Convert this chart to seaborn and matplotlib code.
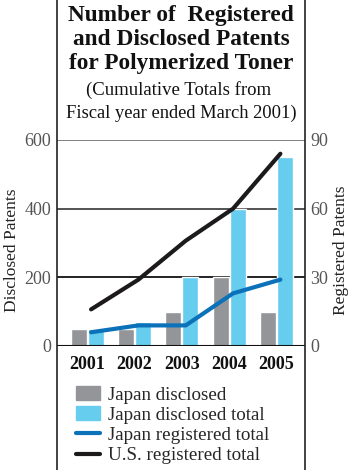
import numpy as np
import pandas as pd
import matplotlib
matplotlib.use('Agg')
import matplotlib.pyplot as plt
import seaborn as sns
from matplotlib.lines import Line2D
from matplotlib.patches import Patch

years = ['2001', '2002', '2003', '2004', '2005']
jp_disclosed = [50, 50, 100, 200, 100]
jp_disclosed_total = [50, 70, 200, 400, 550]
jp_registered_total = [6, 9, 9, 23, 29]
us_registered_total = [16, 29, 46, 60, 84]

c_gray = '#939598'
c_light = '#66cdee'
c_blue = '#0b72b9'
c_black = '#1c1a1a'
c_tick = '#555555'

sns.set_style('white')
plt.rcParams['font.family'] = ['Liberation Serif', 'DejaVu Serif']

fig = plt.figure(figsize=(3.48, 4.70), dpi=100)
ax = fig.add_axes([57/348, 1-346/470, (305-57)/348, (346-140)/470])

df = pd.DataFrame({
    'year': years * 2,
    'value': jp_disclosed + jp_disclosed_total,
    'series': ['Japan disclosed'] * 5 + ['Japan disclosed total'] * 5,
})
sns.barplot(data=df, x='year', y='value', hue='series',
            palette=[c_gray, c_light], width=0.72, gap=0.06,
            legend=False, ax=ax, saturation=1)

ax.set_xlim(-0.64, 4.6)
ax.set_ylim(0, 600)
ax.set_yticks([0, 200, 400, 600])
for yv, col in zip([200, 400, 600], ['#111111', '#444444', '#777777']):
    ax.axhline(yv, color=col, lw=1.3, zorder=0)
ax.axhline(0, color='#111111', lw=1.5, zorder=3)
for s in ax.spines.values():
    s.set_visible(False)
ax.tick_params(axis='y', length=0, labelsize=13, labelcolor=c_tick, pad=4)
ax.tick_params(axis='x', length=0, pad=7)
ax.set_xticks(range(5))
ax.set_xticklabels(years, fontsize=13, fontweight='bold', color='#111111')
ax.set_xlabel('')
ax.set_ylabel('')

ax2 = ax.twinx()
xs = np.arange(5) + 0.08
sns.lineplot(x=xs, y=us_registered_total, color=c_black, lw=3, ax=ax2)
sns.lineplot(x=xs, y=jp_registered_total, color=c_blue, lw=3, ax=ax2)
ax2.set_ylim(0, 90)
ax2.set_yticks([0, 30, 60, 90])
ax2.tick_params(axis='y', length=0, labelsize=13, labelcolor=c_tick, pad=4)
for s in ax2.spines.values():
    s.set_visible(False)
ax2.grid(False)

fig.text(12/348, 1-250/470, 'Disclosed Patents', rotation=90, ha='center',
         va='center', fontsize=12.5, color='#222222')
fig.text(341/348, 1-250/470, 'Registered Patents', rotation=90, ha='center',
         va='center', fontsize=12.5, color='#222222')

# frame lines
for xv in [56.5/348, 305/348]:
    fig.add_artist(Line2D([xv, xv], [0, 1], color='#222222', lw=1.2,
                          transform=fig.transFigure))

title = ['Number of  Registered', 'and Disclosed Patents', 'for Polymerized Toner']
for i, t in enumerate(title):
    fig.text(181/348, 1-(16+23.5*i)/470, t, ha='center', va='center',
             fontsize=16.8, fontweight='bold', color='#111111')
fig.text(179/348, 1-90/470, '(Cumulative Totals from', ha='center',
         va='center', fontsize=13.5, color='#111111')
fig.text(181/348, 1-113/470, 'Fiscal year ended March 2001)', ha='center',
         va='center', fontsize=13.3, color='#111111')

handles = [Patch(color=c_gray), Patch(color=c_light),
           Line2D([], [], color=c_blue, lw=3),
           Line2D([], [], color=c_black, lw=3)]
labels = ['Japan disclosed', 'Japan disclosed total',
          'Japan registered total', 'U.S. registered total']
fig.legend(handles, labels, loc='upper left', bbox_to_anchor=(76/348, 1-386/470),
           frameon=False, fontsize=13.7, handlelength=1.25, handleheight=0.75,
           handletextpad=0.45, labelspacing=0.14, borderpad=0, borderaxespad=0)

fig.savefig('out.png', dpi=100)
